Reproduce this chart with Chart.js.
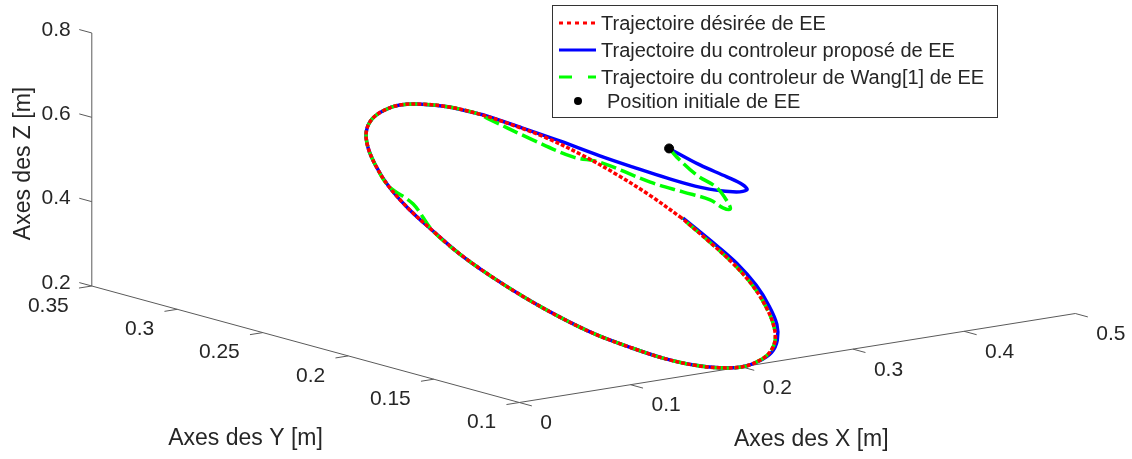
<!DOCTYPE html>
<html>
<head>
<meta charset="utf-8">
<script src="https://cdn.jsdelivr.net/npm/chart.js@4"></script>
<style>
  body { margin: 0; background: #fff; }
  #wrap { width: 1132px; height: 459px; }
</style>
</head>
<body>
<div id="wrap"><canvas id="trajChart"></canvas></div>
<script>
// desired end-effector path (m), one point every 10 deg
const desiredX = [0.300, 0.298, 0.294, 0.287, 0.277, 0.264, 0.250, 0.234, 0.217, 0.200, 0.183, 0.166, 0.150, 0.136, 0.123, 0.113, 0.106, 0.102, 0.100,
                  0.102, 0.106, 0.113, 0.123, 0.136, 0.150, 0.166, 0.183, 0.200, 0.217, 0.234, 0.250, 0.264, 0.277, 0.287, 0.294, 0.298, 0.300];
const desiredY = [0.200, 0.217, 0.234, 0.250, 0.264, 0.277, 0.287, 0.294, 0.298, 0.300, 0.298, 0.294, 0.287, 0.277, 0.264, 0.250, 0.234, 0.217, 0.200,
                  0.183, 0.166, 0.150, 0.136, 0.123, 0.113, 0.106, 0.102, 0.100, 0.102, 0.106, 0.113, 0.123, 0.136, 0.150, 0.166, 0.183, 0.200];
const desiredZ = [0.400, 0.435, 0.468, 0.500, 0.529, 0.553, 0.573, 0.588, 0.597, 0.600, 0.597, 0.588, 0.573, 0.553, 0.529, 0.500, 0.468, 0.435, 0.400,
                  0.365, 0.332, 0.300, 0.271, 0.247, 0.227, 0.212, 0.203, 0.200, 0.203, 0.212, 0.227, 0.247, 0.271, 0.300, 0.332, 0.365, 0.400];

// proposed controller: transient from the start point, then on the circle
const proposedX = [0.350, 0.370, 0.385, 0.395, 0.400, 0.395, 0.380, 0.360, 0.340, 0.320, 0.300, 0.280, 0.260,
                   0.250, 0.234, 0.217, 0.200, 0.183, 0.166, 0.150, 0.136, 0.123, 0.113, 0.106, 0.102, 0.100, 0.102, 0.106, 0.113,
                   0.123, 0.136, 0.150, 0.166, 0.183, 0.200, 0.218, 0.236, 0.252, 0.267, 0.280, 0.290, 0.297, 0.300, 0.301];
const proposedY = [0.240, 0.235, 0.229, 0.226, 0.227, 0.232, 0.241, 0.248, 0.255, 0.261, 0.271, 0.282, 0.290,
                   0.287, 0.294, 0.298, 0.300, 0.298, 0.294, 0.287, 0.277, 0.264, 0.250, 0.234, 0.217, 0.200, 0.183, 0.166, 0.150,
                   0.136, 0.123, 0.113, 0.106, 0.102, 0.100, 0.102, 0.106, 0.113, 0.123, 0.136, 0.150, 0.166, 0.183, 0.200];
const proposedZ = [0.500, 0.458, 0.430, 0.410, 0.395, 0.387, 0.394, 0.417, 0.444, 0.472, 0.504, 0.534, 0.562,
                   0.573, 0.588, 0.597, 0.600, 0.597, 0.588, 0.573, 0.553, 0.529, 0.500, 0.468, 0.435, 0.400, 0.365, 0.332, 0.300,
                   0.271, 0.247, 0.227, 0.212, 0.203, 0.200, 0.203, 0.212, 0.227, 0.247, 0.271, 0.300, 0.332, 0.365, 0.400];

// Wang[1] controller
const wangX = [0.350, 0.360, 0.375, 0.390, 0.400, 0.405, 0.400, 0.390, 0.370, 0.350, 0.320, 0.305, 0.280, 0.260,
               0.250, 0.234, 0.217, 0.200, 0.183, 0.166, 0.150, 0.136, 0.123, 0.113, 0.106, 0.102, 0.100, 0.102, 0.106, 0.113,
               0.123, 0.136, 0.150, 0.166, 0.183, 0.200, 0.217, 0.234, 0.250, 0.264, 0.277, 0.287, 0.294, 0.298, 0.300];
const wangY = [0.240, 0.242, 0.240, 0.238, 0.238, 0.240, 0.241, 0.242, 0.245, 0.251, 0.261, 0.267, 0.278, 0.288,
               0.287, 0.294, 0.298, 0.300, 0.298, 0.294, 0.287, 0.277, 0.264, 0.250, 0.231, 0.217, 0.200, 0.183, 0.166, 0.150,
               0.136, 0.123, 0.113, 0.106, 0.102, 0.100, 0.102, 0.106, 0.113, 0.123, 0.136, 0.150, 0.166, 0.183, 0.200];
const wangZ = [0.500, 0.473, 0.426, 0.392, 0.352, 0.333, 0.337, 0.359, 0.383, 0.408, 0.457, 0.469, 0.515, 0.557,
               0.573, 0.588, 0.597, 0.600, 0.597, 0.588, 0.573, 0.553, 0.529, 0.500, 0.481, 0.435, 0.400, 0.365, 0.332, 0.300,
               0.271, 0.247, 0.227, 0.212, 0.203, 0.200, 0.203, 0.212, 0.227, 0.247, 0.271, 0.300, 0.332, 0.365, 0.400];

const initX = [0.35];
const initY = [0.24];
const initZ = [0.50];

// axes
const xRange = [0, 0.5];
const yRange = [0.1, 0.35];
const zRange = [0.2, 0.8];
const xTicks = [0, 0.1, 0.2, 0.3, 0.4, 0.5];
const yTicks = [0.1, 0.15, 0.2, 0.25, 0.3, 0.35];
const zTicks = [0.2, 0.4, 0.6, 0.8];
const xTickLabels = ["0", "0.1", "0.2", "0.3", "0.4", "0.5"];
const yTickLabels = ["0.1", "0.15", "0.2", "0.25", "0.3", "0.35"];
const zTickLabels = ["0.2", "0.4", "0.6", "0.8"];

// 3d view: where (xMin, yMin, zMin) lands and how one metre on each axis moves on the page
const view = {
    ox: 519.3, oy: 402.5,
    xu: [1112, -178],
    yu: [-1710, -466],
    zu: [0, -421.7],
};

function project(x, y, z) {
    const dx = x - xRange[0], dy = y - yRange[0], dz = z - zRange[0];
    return {
        x: view.ox + dx * view.xu[0] + dy * view.yu[0] + dz * view.zu[0],
        y: view.oy + dx * view.xu[1] + dy * view.yu[1] + dz * view.zu[1],
    };
}

const toPoints = (xs, ys, zs) => xs.map((x, i) => project(x, ys[i], zs[i]));

const FONT = '"Liberation Sans", Arial, sans-serif';
const axisColor = "#5a5a5a";
const textColor = "#262626";

// draws the three box edges, tick marks and labels
const axes3d = {
    id: "axes3d",
    beforeDatasetsDraw(chart) {
        const ctx = chart.ctx;
        const sx = chart.scales.x, sy = chart.scales.y;
        const pix = (x, y, z) => {
            const p = project(x, y, z);
            return [sx.getPixelForValue(p.x), sy.getPixelForValue(p.y)];
        };
        const unitDir = (v, sign) => {
            const len = Math.hypot(v[0], v[1]);
            return [sign * v[0] / len, sign * v[1] / len];
        };
        const tickLen = 13;

        ctx.save();
        ctx.strokeStyle = axisColor;
        ctx.lineWidth = 1;
        const seg = (a, b) => {
            ctx.beginPath();
            ctx.moveTo(a[0], a[1]);
            ctx.lineTo(b[0], b[1]);
            ctx.stroke();
        };
        seg(pix(xRange[0], yRange[1], zRange[0]), pix(xRange[0], yRange[1], zRange[1]));
        seg(pix(xRange[0], yRange[1], zRange[0]), pix(xRange[0], yRange[0], zRange[0]));
        seg(pix(xRange[0], yRange[0], zRange[0]), pix(xRange[1], yRange[0], zRange[0]));

        ctx.fillStyle = textColor;
        ctx.font = "21px " + FONT;
        ctx.textBaseline = "middle";

        // z ticks point along +y
        const zDir = unitDir(view.yu, 1);
        ctx.textAlign = "right";
        zTicks.forEach((t, i) => {
            const p = pix(xRange[0], yRange[1], t);
            seg(p, [p[0] + zDir[0] * tickLen, p[1] + zDir[1] * tickLen]);
            ctx.fillText(zTickLabels[i], p[0] - 21, p[1] - 3);
        });

        // y ticks point along -x
        const yDir = unitDir(view.xu, -1);
        yTicks.forEach((t, i) => {
            const p = pix(xRange[0], t, zRange[0]);
            seg(p, [p[0] + yDir[0] * tickLen, p[1] + yDir[1] * tickLen]);
            ctx.fillText(yTickLabels[i], p[0] - 23, p[1] + 20);
        });

        // x ticks point along -y
        const xDir = unitDir(view.yu, -1);
        ctx.textAlign = "left";
        xTicks.forEach((t, i) => {
            const p = pix(t, yRange[0], zRange[0]);
            seg(p, [p[0] + xDir[0] * tickLen, p[1] + xDir[1] * tickLen]);
            ctx.fillText(xTickLabels[i], p[0] + 21, p[1] + 21);
        });

        // axis titles
        ctx.font = "23px " + FONT;
        ctx.textAlign = "center";
        const xm = pix((xRange[0] + xRange[1]) / 2, yRange[0], zRange[0]);
        ctx.fillText("Axes des X [m]", xm[0] + 14, xm[1] + 82);
        const ym = pix(xRange[0], (yRange[0] + yRange[1]) / 2, zRange[0]);
        ctx.fillText("Axes des Y [m]", ym[0] - 60, ym[1] + 94);
        const zm = pix(xRange[0], yRange[1], (zRange[0] + zRange[1]) / 2);
        ctx.translate(zm[0] - 68, zm[1] + 4);
        ctx.rotate(-Math.PI / 2);
        ctx.fillText("Axes des Z [m]", 0, 0);
        ctx.restore();
    },
};

// boxed legend in the upper right
const boxLegend = {
    id: "boxLegend",
    afterDraw(chart) {
        const ctx = chart.ctx;
        const ds = chart.data.datasets;
        const left = 552, top = 5, width = 445, height = 112;
        const rows = [23, 50, 77, 101];
        ctx.save();
        ctx.fillStyle = "#fff";
        ctx.fillRect(left, top, width, height);
        ctx.strokeStyle = "#333";
        ctx.lineWidth = 1;
        ctx.strokeRect(left + 0.5, top + 0.5, width, height);

        ctx.font = "20px " + FONT;
        ctx.textBaseline = "middle";
        ctx.fillStyle = textColor;
        ds.forEach((d, i) => {
            const y = rows[i];
            if (d.showLine) {
                ctx.save();
                ctx.strokeStyle = d.borderColor;
                ctx.lineWidth = 3;
                ctx.setLineDash(d.legendDash || []);
                ctx.beginPath();
                ctx.moveTo(559, y);
                ctx.lineTo(596, y);
                ctx.stroke();
                ctx.restore();
                ctx.fillText(d.label, 601, y + 1);
            } else {
                ctx.beginPath();
                ctx.arc(578, y, 4, 0, Math.PI * 2);
                ctx.fillStyle = "#000";
                ctx.fill();
                ctx.fillStyle = textColor;
                ctx.fillText(d.label, 607, y + 1);
            }
        });
        ctx.restore();
    },
};

new Chart(document.getElementById("trajChart"), {
    type: "scatter",
    data: {
        datasets: [
            {
                label: "Trajectoire désirée de EE",
                data: toPoints(desiredX, desiredY, desiredZ),
                showLine: true,
                borderColor: "#ff0000",
                borderWidth: 3.5,
                borderDash: [4, 2],
                legendDash: [4, 4],
                pointRadius: 0,
                tension: 0.35,
                order: 0,
                clip: false,
            },
            {
                label: "Trajectoire du controleur proposé de EE",
                data: toPoints(proposedX, proposedY, proposedZ),
                showLine: true,
                borderColor: "#0000ff",
                borderWidth: 3.5,
                pointRadius: 0,
                tension: 0.35,
                order: 2,
                clip: false,
            },
            {
                label: "Trajectoire du controleur de Wang[1] de EE",
                data: toPoints(wangX, wangY, wangZ),
                showLine: true,
                borderColor: "#00ff00",
                borderWidth: 3.5,
                borderDash: [16, 5],
                legendDash: [13, 16],
                pointRadius: 0,
                tension: 0.35,
                order: 1,
                clip: false,
            },
            {
                label: "Position initiale de EE",
                data: toPoints(initX, initY, initZ),
                showLine: false,
                pointRadius: 4.5,
                pointBackgroundColor: "#000",
                pointBorderColor: "#000",
                order: -1,
                clip: false,
            },
        ],
    },
    options: {
        responsive: true,
        maintainAspectRatio: false,
        animation: false,
        events: [],
        layout: { padding: 0, autoPadding: false },
        scales: {
            x: { type: "linear", min: 0, max: 1132, display: false },
            y: { type: "linear", min: 0, max: 459, reverse: true, display: false },
        },
        plugins: {
            legend: { display: false },
            tooltip: { enabled: false },
        },
    },
    plugins: [axes3d, boxLegend],
});
</script>
</body>
</html>
